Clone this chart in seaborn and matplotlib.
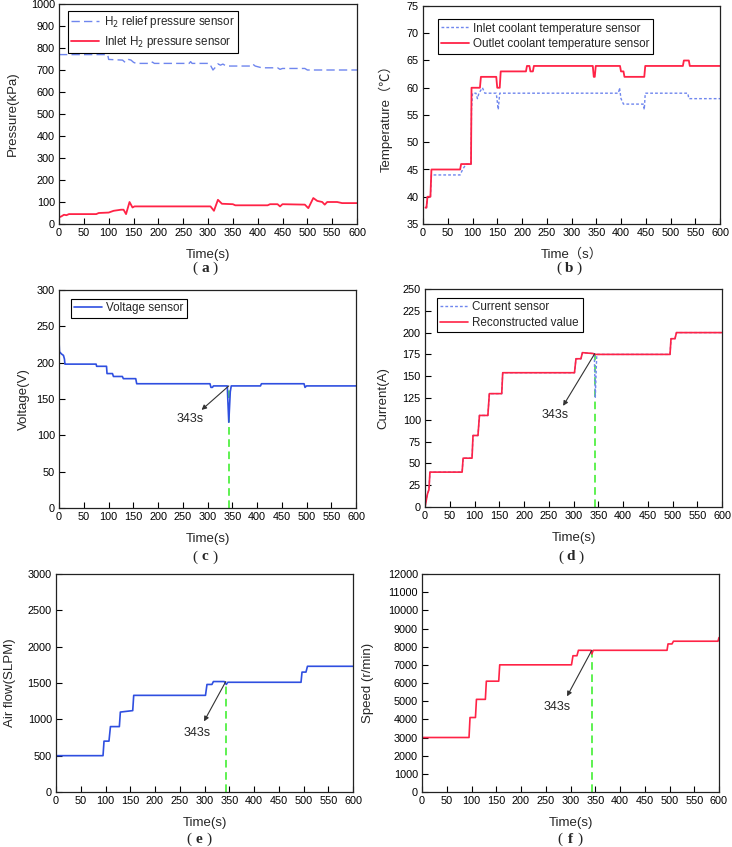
import numpy as np
import pandas as pd
import matplotlib
matplotlib.use("Agg")
import matplotlib.pyplot as plt
import seaborn as sns

sns.set_theme(style="white")
plt.rcParams['font.family'] = ['Liberation Sans', 'Noto Sans CJK SC', 'DejaVu Sans']
plt.rcParams['axes.unicode_minus'] = False

# ---------------- data (a) pressure ----------------
relief_t = [0, 98, 100, 128, 133, 140, 145, 150, 155, 185, 188, 192, 262, 265, 268, 303, 310, 316, 320, 325, 330, 335, 340, 385, 390, 395, 405, 410, 440, 445, 450, 495, 500, 600]
relief_p = [770, 770, 748, 745, 735, 748, 745, 735, 730, 730, 736, 730, 730, 738, 730, 730, 700, 715, 728, 722, 727, 720, 718, 718, 727, 718, 712, 710, 710, 703, 707, 707, 700, 700]
inlet_t = [0, 5, 10, 15, 20, 75, 80, 100, 110, 125, 130, 135, 142, 148, 152, 155, 305, 312, 320, 328, 350, 355, 420, 425, 440, 445, 450, 495, 502, 512, 520, 530, 535, 540, 560, 570, 600]
inlet_p = [30, 35, 42, 40, 45, 45, 50, 52, 60, 65, 65, 45, 100, 75, 80, 80, 80, 60, 110, 92, 90, 85, 85, 90, 90, 80, 90, 88, 72, 118, 105, 100, 88, 100, 100, 95, 95]

# ---------------- data (b) temperature ----------------
tout_t = [5, 7, 9, 15, 17, 75, 77, 97, 98, 115, 117, 148, 150, 155, 157, 208, 210, 215, 217, 222, 224, 343, 345, 347, 349, 398, 400, 405, 407, 447, 449, 525, 527, 537, 539, 600]
tout_v = [38, 38, 40, 40, 45, 45, 46, 46, 60, 60, 62, 62, 60, 60, 63, 63, 64, 64, 63, 63, 64, 64, 62, 62, 64, 64, 63, 63, 62, 62, 64, 64, 65, 65, 64, 64]
tin_t = [5, 7, 9, 15, 17, 75, 80, 87, 97, 98, 100, 107, 110, 113, 120, 125, 148, 152, 155, 395, 397, 400, 405, 445, 447, 449, 535, 537, 600]
tin_v = [38, 38, 40, 40, 44, 44, 45, 46, 46, 56, 59, 59, 58, 59, 60, 59, 59, 56, 59, 59, 60, 58, 57, 57, 56, 59, 59, 58, 58]

# ---------------- data (c) voltage ----------------
volt_t = [0, 1, 5, 9, 11, 12, 75, 76, 96, 97, 108, 110, 128, 130, 155, 157, 305, 307, 310, 312, 340, 341, 343, 346, 348, 407, 409, 495, 497, 500, 600]
volt_v = [230, 215, 212, 210, 205, 198, 198, 195, 195, 185, 185, 181, 181, 178, 178, 171, 171, 166, 166, 168, 168, 150, 118, 160, 168, 168, 171, 171, 166, 168, 168]

# ---------------- data (d) current ----------------
cur_t = [0, 5, 8, 10, 75, 77, 95, 97, 107, 110, 127, 130, 155, 157, 302, 305, 315, 318, 340, 342, 344, 347, 495, 497, 505, 508, 600]
cur_sensor = [0, 15, 20, 40, 40, 56, 56, 82, 82, 105, 105, 130, 130, 154, 154, 170, 170, 177, 176, 175, 125, 175, 175, 193, 193, 200, 200]
cur_recon = [0, 15, 20, 40, 40, 56, 56, 82, 82, 105, 105, 130, 130, 154, 154, 170, 170, 177, 176, 175, 175, 175, 175, 193, 193, 200, 200]

# ---------------- data (e) air flow ----------------
air_t = [0, 95, 97, 107, 110, 128, 130, 155, 157, 302, 305, 315, 318, 340, 344, 347, 495, 497, 505, 508, 600]
air_v = [500, 500, 700, 700, 900, 900, 1100, 1120, 1330, 1330, 1480, 1480, 1520, 1520, 1480, 1510, 1510, 1650, 1650, 1730, 1730]

# ---------------- data (f) speed ----------------
spd_t = [0, 95, 97, 108, 110, 128, 130, 155, 157, 302, 305, 313, 316, 341, 343, 346, 495, 497, 505, 508, 598, 600]
spd_v = [3000, 3000, 4100, 4100, 5100, 5100, 6100, 6100, 7000, 7000, 7500, 7500, 7800, 7800, 7600, 7800, 7800, 8150, 8150, 8300, 8300, 8500]

fault_t = 343
xticks = list(range(0, 601, 50))

BLUE = "#2f4fe0"
LBLUE = "#6f86ee"
RED = "#ff2346"
GREEN = "#33ee22"

fig = plt.figure(figsize=(7.32, 8.47), dpi=100)
W, H = 732, 847

def make_ax(l, r, t, b):
    return fig.add_axes([l / W, 1 - b / H, (r - l) / W, (b - t) / H])

def style(ax, ylim, yticks, ylabel, xlabel="Time(s)", ypad=10):
    ax.set_xlim(0, 600)
    ax.set_ylim(*ylim)
    ax.set_xticks(xticks)
    ax.set_yticks(yticks)
    ax.tick_params(direction='in', length=4, width=0.8, labelsize=7.8, pad=3,
                   left=True, bottom=True, top=False, right=False, colors='black')
    for s in ax.spines.values():
        s.set_visible(True)
        s.set_color('#222222')
        s.set_linewidth(0.9)
    ax.set_xlabel(xlabel, fontsize=9.5, labelpad=7.5)
    ax.set_ylabel(ylabel, fontsize=9.5, labelpad=ypad)
    ax.grid(False)

def line(ax, t, v, color, ls='-', lw=1.2, label=None):
    df = pd.DataFrame({"t": t, "v": v})
    sns.lineplot(data=df, x="t", y="v", ax=ax, color=color, linestyle=ls, lw=lw,
                 estimator=None, sort=False, label=label, legend=False)

def legend(ax, bbox):
    leg = ax.legend(loc='upper left', bbox_to_anchor=bbox, fontsize=8.4, frameon=True,
                    fancybox=False, framealpha=1, edgecolor='black', borderpad=0.3,
                    handlelength=2.4, handletextpad=0.35, labelspacing=0.3, borderaxespad=0)
    leg.get_frame().set_linewidth(0.8)

def sublabel(x, y, letter):
    fy = 1 - y / H
    fig.text(x / W, fy, letter, ha='center', va='center', fontsize=11,
             fontweight='bold', family='Liberation Serif')
    fig.text((x - 10) / W, fy, "(", ha='center', va='center', fontsize=11,
             family='Liberation Serif')
    fig.text((x + 10) / W, fy, ")", ha='center', va='center', fontsize=11,
             family='Liberation Serif')

def fault(ax, yv, head, text_xy):
    ax.axvline(fault_t, ymin=0, ymax=(yv - ax.get_ylim()[0]) / (ax.get_ylim()[1] - ax.get_ylim()[0]),
               color=GREEN, ls=(0, (5, 3)), lw=1.1, zorder=1)
    ax.annotate("", xy=head, xytext=(fault_t, yv),
                arrowprops=dict(arrowstyle='-|>', color='#333333', lw=0.8, mutation_scale=7,
                                shrinkA=0, shrinkB=0))
    ax.text(text_xy[0], text_xy[1], "343s", fontsize=9, ha='center', va='center')

# (a)
ax = make_ax(59, 357, 4, 224)
line(ax, relief_t, relief_p, LBLUE, ls=(0, (6, 3)), lw=1.0, label="H$_2$ relief pressure sensor")
line(ax, inlet_t, inlet_p, RED, lw=1.3, label="Inlet H$_2$ pressure sensor")
style(ax, (0, 1000), range(0, 1001, 100), "Pressure(kPa)", ypad=8.3)
legend(ax, (0.03, 0.97))
sublabel(205, 268, "a")

# (b)
ax = make_ax(423, 720, 6, 224)
line(ax, tin_t, tin_v, LBLUE, ls=(0, (2, 1.5)), lw=1.0, label="Inlet coolant temperature sensor")
line(ax, tout_t, tout_v, RED, lw=1.3, label="Outlet coolant temperature sensor")
style(ax, (35, 75), range(35, 76, 5), "Temperature（℃）", xlabel="Time（s）", ypad=9.8)
legend(ax, (0.05, 0.94))
sublabel(569, 268, "b")

# (c)
ax = make_ax(59, 356, 290, 508)
line(ax, volt_t, volt_v, BLUE, lw=1.2, label="Voltage sensor")
style(ax, (0, 300), range(0, 301, 50), "Voltage(V)", ypad=5)
legend(ax, (0.04, 0.96))
fault(ax, 168, (288, 135), (265, 122))
sublabel(205, 557, "c")

# (d)
ax = make_ax(425, 722, 289, 507)
line(ax, cur_t, cur_sensor, LBLUE, ls=(0, (2, 1.5)), lw=1.0, label="Current sensor")
line(ax, cur_t, cur_recon, RED, lw=1.2, label="Reconstructed value")
style(ax, (0, 250), range(0, 251, 25), "Current(A)", ypad=9.8)
legend(ax, (0.04, 0.96))
fault(ax, 176, (279, 116), (262, 105))
sublabel(571, 557, "d")

# (e)
ax = make_ax(56, 353, 574, 792)
line(ax, air_t, air_v, BLUE, lw=1.2)
style(ax, (0, 3000), range(0, 3001, 500), "Air flow(SLPM)", ypad=8.3)
fault(ax, 1520, (299, 972), (285, 812))
sublabel(199, 839, "e")

# (f)
ax = make_ax(422, 719, 574, 792)
line(ax, spd_t, spd_v, RED, lw=1.2)
style(ax, (0, 12000), range(0, 12001, 1000), "Speed (r/min)", ypad=9.8)
fault(ax, 7800, (293, 5266), (272, 4679))
sublabel(570, 839, "f")

fig.savefig("out.png", dpi=100)
